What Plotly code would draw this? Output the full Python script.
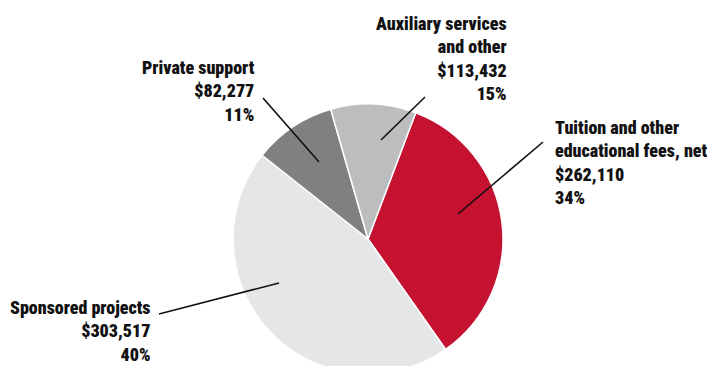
import plotly.graph_objects as go

# ---- data ----
categories = ["Tuition and other educational fees, net", "Sponsored projects",
              "Private support", "Auxiliary services and other"]
amounts = [262110, 303517, 82277, 113432]          # dollar values printed on the chart
percent_labels = ["34%", "40%", "11%", "15%"]       # percentages printed on the chart
# slice sizes as actually drawn in the reference picture (percent of circle)
drawn_shares = [34.5, 45.4, 9.9, 10.2]
name_lines = [
    ["Tuition and other", "educational fees, net"],
    ["Sponsored projects"],
    ["Private support"],
    ["Auxiliary services", "and other"],
]
colors = ["#C41230", "#E5E6E7", "#808080", "#BCBDBF"]

# ---- layout geometry (pixels) ----
W, H = 712, 376
cx, cy, r = 368, 239, 135


def px(x):
    return x / W


def py(y):
    return 1 - y / H


# label anchor positions (pixel): x, y-center, anchor side
label_pos = [
    (553, 162, "left"),
    (152, 331, "right"),
    (257, 91, "right"),
    (509, 58, "right"),
]
# leader lines (pixel): outer end -> inner end
leaders = [
    ((543, 142), (458, 214)),
    ((159, 314), (279, 283)),
    ((263, 98), (319, 162)),
    ((425, 97), (381, 140)),
]

FONT = "Roboto Condensed, Roboto, sans-serif"

fig = go.Figure(go.Pie(
    labels=categories,
    values=drawn_shares,
    customdata=amounts,
    sort=False,
    direction="clockwise",
    rotation=20.7,
    marker=dict(colors=colors, line=dict(color="white", width=1.5)),
    textinfo="none",
    hovertemplate="%{label}<br>$%{customdata:,}<extra></extra>",
    showlegend=False,
    domain=dict(x=[px(cx - r), px(cx + r)], y=[py(cy + r), py(cy - r)]),
))

annotations = []
for names, amt, pct, (x, y, side) in zip(name_lines, amounts, percent_labels, label_pos):
    lines = names + [f"${amt:,}", pct]
    annotations.append(dict(
        text="<br>".join(lines),
        x=px(x), y=py(y), xref="paper", yref="paper",
        xanchor=side, yanchor="middle", align=side,
        showarrow=False,
        font=dict(family=FONT, size=18, color="#111111", weight=900),
    ))

shapes = []
for (x0, y0), (x1, y1) in leaders:
    shapes.append(dict(type="line", xref="paper", yref="paper",
                       x0=px(x0), y0=py(y0), x1=px(x1), y1=py(y1),
                       line=dict(color="#111111", width=1.6)))

fig.update_layout(
    width=W, height=H,
    margin=dict(l=0, r=0, t=0, b=0),
    paper_bgcolor="white",
    plot_bgcolor="white",
    annotations=annotations,
    shapes=shapes,
)

fig.write_html("out.html")
